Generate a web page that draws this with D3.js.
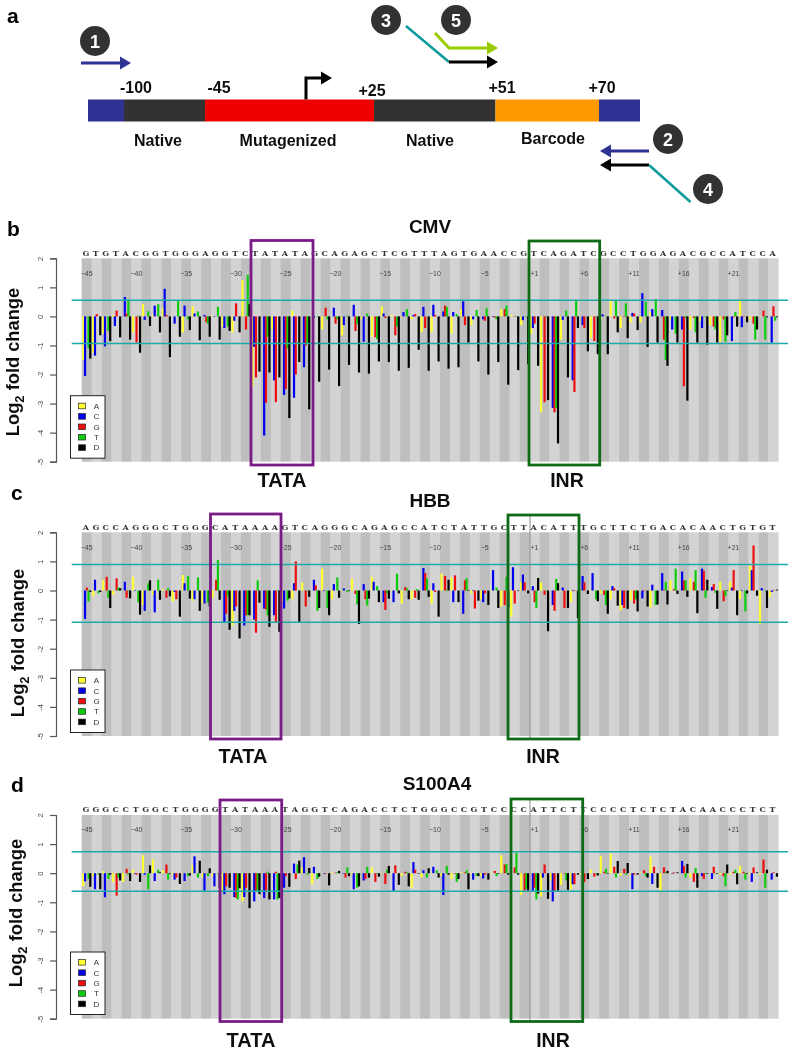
<!DOCTYPE html>
<html><head><meta charset="utf-8">
<script src="https://cdn.jsdelivr.net/npm/d3@7/dist/d3.min.js"></script>
<style>html,body{margin:0;background:#fff}svg{display:block}text{font-family:"Liberation Sans",Arial,sans-serif}</style>
</head><body><svg id="c" width="795" height="1050"><defs><filter id="soft" x="0" y="0" width="100%" height="100%"><feGaussianBlur stdDeviation="0.4"/></filter></defs></svg>
<script>
const bases = ["A","C","G","T","D"];
const baseColors = ["#ffff33","#0000ee","#ee1111","#11cc11","#000000"];
const posLabels = ["-45","-40","-35","-30","-25","-20","-15","-10","-5","+1","+6","+11","+16","+21"];
const yTicks = [2,1,0,-1,-2,-3,-4,-5];
const n = null;

const cmvSeq = "GTGTACGGTGGGAGGTCTATATAGCAGAGCTCGTTTAGTGAACCGTCAGATCGCCTGGAGACGCCATCCA";
const hbbSeq = "AGCCAGGGCTGGGCATAAAAGTCAGGGCAGAGCCATCTATTGCTTACATTTGCTTCTGACACAACTGTGT";
const s100Seq = "GGGCCTGGCTGGGGTATAAATAGGTCAGACCTCTGGGCCGTCCCCATTCTTCCCCTCTCTACAACCCTCT";

// each row: fold change for A, C, G, T, D at one position (null = native base)
const cmvRows = [
[-1.5,-2.05,n,-1.1,-1.45],[-1.25,-1.35,.08,n,-.65],[-.6,-1.03,n,-.5,-.85],[.05,-.33,.2,n,-.72],[n,.67,.1,.58,-.8],
[-.55,n,-.9,.03,-1.25],[.42,-.12,n,.18,-.33],[.05,.37,n,.42,-.55],[.3,.95,.05,n,-1.4],[-.02,-.25,n,.55,-.7],
[-.55,.37,n,-.1,-.47],[.35,.1,n,.17,-.82],[n,.05,-.2,-.25,-.7],[-.02,-.02,n,.33,-.8],[-.35,-.4,n,-.35,-.5],
[-.55,-.15,.45,n,-.55],[1.25,n,-.45,1.43,.42],[-2.4,-1.05,-2.1,n,-1.9],[n,-4.1,-2.97,-.7,-1.93],[-.45,-2.2,-2.95,n,-2.1],
[n,-2.7,-2.5,-1.1,-3.5],[.2,-2.8,-2,n,-1.57],[n,-1.75,-1,-.95,-3.2],[-.02,-.05,n,-.02,-2.25],[-.45,n,.3,-.1,-1.83],
[n,.3,-.25,-.1,-2.4],[-.65,-.3,n,.03,-1.67],[n,.4,-.5,-.27,-1.93],[-.1,-.87,n,.1,-1.97],[-.7,n,-.72,-.78,-1.55],
[.35,.1,-.05,n,-1.57],[.05,n,-.65,-.35,-1.87],[-.02,.15,n,.25,-1.77],[-.1,.05,.08,n,-1.15],[-.55,.33,-.4,n,-1.87],
[-.55,.4,.05,n,-1.55],[n,.17,.37,.33,-1.8],[-.6,.15,n,.08,-1.75],[.25,.52,-.3,n,-.9],[-.3,-.1,n,.22,-1.55],
[n,-.1,-.15,.28,-2],[n,-.02,-.05,-.1,-1.57],[.25,n,.25,.37,-2.35],[.05,n,.02,-.02,-1.85],[-.3,-.13,n,-.02,-1.65],
[-.6,-.4,-.25,n,-1.7],[-3.3,n,-2.95,-.02,-2.88],[n,-3.15,-3.3,-3.15,-4.37],[-.8,-.12,n,.2,-2.1],[n,-2.2,-2.6,.55,-.4],
[-.02,-.3,-.4,n,-1.2],[-.75,n,-.85,-.02,-1.3],[-.1,.07,n,.02,-1.3],[.55,n,-.07,.55,-.55],[-.4,n,-.02,.45,-.75],
[-.2,.12,.1,n,-.47],[-.2,.8,n,.5,-1.05],[.15,.25,n,.6,-.9],[n,.22,-.8,-1.5,-1.7],[-.1,-.45,n,-.6,-.9],
[n,-.45,-2.4,-.05,-2.9],[-.45,n,-.05,-.55,-.9],[-.15,-.4,n,-.02,-.97],[-.3,n,-.35,-.45,-.9],[-.87,n,-.1,-.87,-.65],
[n,-.85,-.03,.15,-.35],[.55,-.37,-.02,n,-.2],[-.1,n,-.25,-.8,-.45],[-.02,n,.2,-.8,-.03],[n,-.9,.35,-.15,-.03]];

const hbbRows = [
[n,-.98,.1,-.38,-.05],[-.2,.37,n,-.1,-.05],[.35,n,.47,-.25,-.6],[-.15,n,.42,.1,.08],[n,.3,-.25,-.02,-.27],
[.47,-.02,n,-.4,-.83],[-.5,-.7,n,.25,.35],[-.15,-.75,n,.37,-.32],[.05,n,-.25,.08,-.2],[-.37,-.05,-.3,n,-.9],
[.53,.25,n,.5,-.28],[-.35,-.3,n,.45,-.7],[-.45,-.45,n,-.42,-.55],[-.25,n,.37,1.05,-.32],[n,-1.1,-.8,-.2,-1.35],
[-1.2,-.7,-.55,n,-1.65],[n,-1.2,-.85,-.85,-.85],[n,-1,-1.45,.35,-.42],[n,-.62,-.65,-.85,-1.25],[n,-.85,-1.1,-.02,-1.42],
[-.4,-.62,n,-.35,-.27],[-.3,.25,1,n,-1.08],[.28,n,-.55,-.02,-.22],[n,.37,.18,-.7,-.6],[.75,-.02,n,-.6,-.85],
[-.3,.22,n,.45,-.25],[-.02,.07,n,-.05,-.02],[.4,n,-.12,-.48,-1.15],[n,.22,-.3,-.52,-.28],[.47,.3,n,.15,-.4],
[n,-.4,-.67,-.1,-.28],[-.02,-.4,n,.58,-.1],[-.45,n,.12,.07,-.3],[-.3,n,-.25,.05,-.32],[n,.77,.6,.42,-.22],
[-.45,.25,-.05,n,-.9],[.58,n,.5,-.02,.37],[.45,-.4,.52,n,-.4],[n,-.8,.35,.42,-.02],[-.1,-.02,-.62,n,-.35],
[-.3,-.4,-.1,n,-.5],[-.02,.7,n,.1,-.6],[-.55,n,-.5,.47,-.58],[-.9,.8,-.45,n,-.02],[.3,.55,.28,n,-.1],
[n,.15,-.4,-.6,.43],[.28,n,-.15,-.02,-1.4],[n,-.5,-.7,.4,.25],[-.02,.1,-.6,n,-.6],[-.4,-.02,-.02,n,-.95],
[-.02,.5,.28,n,-.12],[-.02,.6,n,-.3,-.37],[-.1,n,-.15,-.5,-.8],[-.3,.15,.08,n,-.52],[-.68,-.5,-.6,n,-.63],
[-.35,n,-.45,-.3,-.72],[-.02,-.27,-.02,n,-.55],[-.58,.2,n,-.5,-.48],[n,.6,.02,.3,-.48],[.35,n,.05,.75,-.12],
[n,.65,.35,.35,-.22],[.42,n,.3,.7,-.78],[n,.75,.68,-.25,.37],[n,.12,.22,-.08,-.63],[.3,n,-.37,-.2,-.02],
[.3,.1,.7,n,-.85],[-.3,-.02,n,-.72,-.1],[.85,.7,1.55,n,-.18],[-1.15,.08,n,-.02,-.6],[-.22,-.05,.02,n,.03]];

const s100Rows = [
[-.45,-.28,n,-.2,-.47],[-.1,-.55,n,-.05,-.55],[.07,-.83,n,-.2,-.05],[-.3,n,-.77,-.15,-.25],[-.3,n,.15,-.05,-.27],
[.12,-.02,-.05,n,-.3],[.62,-.05,n,-.55,.27],[.47,-.27,n,.12,.03],[.1,n,.3,-.22,-.02],[-.05,-.22,-.15,n,-.37],
[-.02,-.27,n,-.1,-.08],[.27,.58,n,-.15,.43],[-.15,-.6,n,-.1,.17],[-.1,-.45,n,-.02,-.5],[-.6,-.72,-.45,n,-.5],
[n,-.82,-.85,-.9,-.52],[-.97,-.82,-.5,n,-1.2],[n,-.97,-.6,-.6,-.72],[n,-.85,-.6,.05,-.9],[n,-.9,.05,-.9,-.85],
[-.4,-.5,-.1,n,-.47],[n,.33,-.2,.3,.43],[.2,.55,n,-.05,.18],[-.38,.22,n,-.2,-.12],[-.02,-.02,-.02,n,-.42],
[.03,n,.02,.03,.08],[n,-.02,-.15,.2,-.1],[-.05,-.55,n,-.5,-.45],[n,-.25,-.2,.22,-.15],[.2,n,-.3,-.02,-.12],
[-.02,n,-.37,.12,.25],[-.02,-.6,.27,n,-.4],[-.1,n,.05,.03,-.45],[-.5,.38,.12,n,-.02],[-.15,.1,n,-.15,.17],
[-.02,.22,n,.1,-.15],[-.1,-.75,n,.25,-.05],[-.2,n,-.02,-.3,-.2],[.03,n,.03,.1,-.55],[-.02,-.22,n,-.1,-.1],
[-.1,-.18,-.05,n,-.22],[-.02,n,.08,-.1,-.02],[.62,n,.3,.32,-.05],[-.05,n,.2,.7,-.05],[-.75,n,-.6,-.55,-.6],
[n,-.6,-.5,-.9,-.7],[-.8,-.15,.3,n,-.88],[-.25,-.97,-.6,n,-.6],[-.4,n,-.02,-.25,-.57],[-.55,-.38,-.38,n,-.05],
[-.05,-.02,-.3,n,-.2],[.12,n,-.12,-.02,-.08],[.6,n,.05,.15,-.02],[.67,n,.22,-.15,.42],[-.08,n,.15,-.05,.35],
[-.05,-.55,-.05,n,-.05],[.02,n,.1,-.1,-.15],[.57,-.37,.22,n,-.5],[-.6,n,.2,.03,.08],[-.02,-.02,.03,n,.03],
[n,.42,.25,-.15,.32],[-.15,n,-.3,.18,-.5],[n,-.1,-.2,-.02,-.02],[n,-.2,.22,-.02,-.02],[-.05,n,-.1,-.45,.3],
[-.05,n,.05,.12,-.38],[.25,n,.05,-.22,-.02],[-.05,-.3,.2,n,.03],[-.05,n,.47,-.5,.12],[-.02,-.22,.03,n,-.12]];

const panels = [
 {letter:"b",letterX:7,letterY:236,title:"CMV",titleX:430,titleY:233,seq:cmvSeq,rows:cmvRows,hi:.56,lo:-.93,top:258.3,bot:461.7,seqY:256,numY:275.5,
  labelX:19,labelY:362,box1:[251,240.5,313,465],box2:[529,241,599.7,465],tataX:282,inrX:567,markY:487,legTop:395.7,midLine:false},
 {letter:"c",letterX:11,letterY:500,title:"HBB",titleX:430,titleY:507.3,seq:hbbSeq,rows:hbbRows,hi:.89,lo:-1.09,top:532.3,bot:736,seqY:530,numY:549.5,
  labelX:24,labelY:643,box1:[210.5,514,281,739],box2:[508,515,579,739],tataX:243,inrX:543,markY:763,legTop:670,midLine:true},
 {letter:"d",letterX:11,letterY:792,title:"S100A4",titleX:437,titleY:790,seq:s100Seq,rows:s100Rows,hi:.74,lo:-.62,top:815,bot:1018.7,seqY:812,numY:832,
  labelX:22,labelY:913,box1:[220,800,281.7,1021.5],box2:[511,799,582.7,1021.5],tataX:251,inrX:553,markY:1047,legTop:952,midLine:true}
];

const svg = d3.select("#c");
const root = svg.append("g").attr("filter","url(#soft)");
root.append("rect").attr("width",795).attr("height",1050).attr("fill","#fff");
const positions = d3.range(70);
const x = d3.scaleBand().domain(positions).range([81.7,778.3]);
const inner = d3.scalePoint().domain(bases).range([1.6,8.6]);
const posIndex = s => { const v=+s; return v<0 ? v+45 : v+44; };

/* ---------- panel a schematic ---------- */
const blue="#2e3192", dark="#333333", teal="#0a9a9a", lime="#99cc00";
const segments=[[88,124,blue],[124,205,dark],[205,374,"#ee0000"],[374,495.5,dark],[495.5,599,"#ff9900"],[599,640,blue]];
const g0=root.append("g");
g0.selectAll("rect").data(segments).join("rect").attr("x",d=>d[0]).attr("width",d=>d[1]-d[0]).attr("y",99.5).attr("height",22).attr("fill",d=>d[2]);
const arrow=(pts,col,w=3)=>{
  g0.append("path").attr("d",d3.line()(pts)).attr("fill","none").attr("stroke",col).attr("stroke-width",w);
};
const head=(x0,y0,dir,col)=>{
  g0.append("path").attr("d",`M${x0},${y0-6.5}L${x0+dir*11},${y0}L${x0},${y0+6.5}Z`).attr("fill",col);
};
arrow([[306,99.5],[306,78],[322,78]],"#000",3); head(321,78,1,"#000");
arrow([[81,63],[121,63]],blue,3); head(120,63,1,blue);
arrow([[406,26],[449,62]],teal,2.5); arrow([[449,62],[488,62]],"#000",3); head(487,62,1,"#000");
arrow([[435,33],[449,48],[488,48]],lime,3); head(487,48,1,lime);
arrow([[649,151],[610,151]],blue,3); head(611,151,-1,blue);
arrow([[649,165],[610,165]],"#000",3); head(611,165,-1,"#000");
arrow([[649,165],[690.5,202]],teal,2.5);
[[95,41,"1"],[386,20,"3"],[456,20,"5"],[668,139,"2"],[708,189,"4"]].forEach(c=>{
  g0.append("circle").attr("cx",c[0]).attr("cy",c[1]).attr("r",15).attr("fill",dark);
  g0.append("text").attr("x",c[0]).attr("y",c[1]+6.5).attr("text-anchor","middle").attr("font-size",18).attr("font-weight","bold").attr("fill","#fff").text(c[2]);
});
[[136,93,"-100"],[219,93,"-45"],[372,96,"+25"],[502,93,"+51"],[602,93,"+70"],
 [158,146,"Native"],[288,146,"Mutagenized"],[430,146,"Native"],[553,144,"Barcode"]].forEach(t=>{
  g0.append("text").attr("x",t[0]).attr("y",t[1]).attr("text-anchor","middle").attr("font-size",16).attr("font-weight","bold").attr("fill","#111").text(t[2]);
});
root.append("text").attr("x",7).attr("y",23).attr("font-size",21).attr("font-weight","bold").text("a");

/* ---------- bar panels ---------- */
panels.forEach(p=>{
  const y=d3.scaleLinear().domain([2,-5]).range([p.top,p.bot]);
  const g=root.append("g");
  g.selectAll("rect.band").data(positions).join("rect").attr("class","band")
    .attr("x",d=>x(d)).attr("width",x.bandwidth()+.3).attr("y",p.top).attr("height",p.bot-p.top)
    .attr("fill",d=>d%2===0?"#bebebe":"#d3d3d3");
  g.selectAll("text.seq").data(p.seq.split("")).join("text").attr("class","seq")
    .attr("x",(d,i)=>x(i)+x.bandwidth()/2-.8).attr("y",p.seqY).attr("text-anchor","middle")
    .attr("style","font-family:'DejaVu Serif',serif").attr("font-size",8).attr("font-weight","bold").attr("fill","#333").text(d=>d);
  g.selectAll("text.num").data(posLabels).join("text").attr("class","num")
    .attr("x",d=>x(posIndex(d))+x.bandwidth()/2).attr("y",p.numY).attr("text-anchor","middle")
    .attr("font-size",7).attr("fill","#444").text(d=>d.replace("-","\u2212"));
  const flat=[];
  p.rows.forEach((r,i)=>r.forEach((v,k)=>{ if(v!==null) flat.push({i,k,v}); }));
  g.selectAll("rect.bar").data(flat).join("rect").attr("class","bar")
    .attr("x",d=>x(d.i)+inner(bases[d.k])-1.1).attr("width",2.2)
    .attr("y",d=>Math.min(y(0),y(d.v))).attr("height",d=>Math.abs(y(d.v)-y(0)))
    .attr("fill",d=>baseColors[d.k]);
  g.selectAll("line.thr").data([p.hi,p.lo]).join("line").attr("class","thr")
    .attr("x1",71.7).attr("x2",788).attr("y1",d=>y(d)).attr("y2",d=>y(d)).attr("stroke","#1fa9a9").attr("stroke-width",1.5);

  const ax=g.append("g").attr("transform","translate(56,0)").call(d3.axisLeft(y).tickValues(yTicks).tickSize(6).tickFormat(d3.format("d")));
  ax.selectAll("path,line").attr("stroke","#555").attr("stroke-width",1.2);
  ax.selectAll("text").attr("font-size",7.5).attr("fill","#444")
    .attr("x",0).attr("y",0).attr("dy","0").attr("text-anchor","middle")
    .attr("transform","translate(-13,0) rotate(-90)").text(d=>String(d));

  const lab=g.append("text").attr("transform",`translate(${p.labelX},${p.labelY}) rotate(-90)`).attr("text-anchor","middle").attr("font-size",18.3).attr("font-weight","bold").attr("fill","#111");
  lab.append("tspan").text("Log");
  lab.append("tspan").attr("dy",5).attr("font-size",13).text("2");
  lab.append("tspan").attr("dy",-5).text(" fold change");

  const lg=g.append("g").attr("transform",`translate(70.5,${p.legTop})`);
  lg.append("rect").attr("width",34.5).attr("height",62.5).attr("fill","#fff").attr("stroke","#222").attr("stroke-width",1);
  bases.forEach((b,k)=>{
    const ry=10.3+k*10.4;
    lg.append("rect").attr("x",8).attr("y",ry-2.8).attr("width",7).attr("height",5.6).attr("fill",baseColors[k]).attr("stroke","#222").attr("stroke-width",.7);
    lg.append("text").attr("x",26).attr("y",ry+2.9).attr("text-anchor","middle").attr("font-size",8).attr("fill","#333").text(b);
  });

  if(p.midLine) g.append("line").attr("x1",530).attr("x2",530).attr("y1",p.box2[1]).attr("y2",p.box2[3]).attr("stroke","#888").attr("stroke-width",1);
  const boxes=[[p.box1,"#7a1a86"],[p.box2,"#0f6b14"]];
  boxes.forEach(([b,c])=>g.append("rect").attr("x",b[0]).attr("y",b[1]).attr("width",b[2]-b[0]).attr("height",b[3]-b[1]).attr("fill","none").attr("stroke",c).attr("stroke-width",2.8));
  g.append("text").attr("x",p.tataX).attr("y",p.markY).attr("text-anchor","middle").attr("font-size",20).attr("font-weight","bold").attr("fill","#111").text("TATA");
  g.append("text").attr("x",p.inrX).attr("y",p.markY).attr("text-anchor","middle").attr("font-size",19.5).attr("font-weight","bold").attr("fill","#111").text("INR");
  g.append("text").attr("x",p.titleX).attr("y",p.titleY).attr("text-anchor","middle").attr("font-size",19).attr("font-weight","bold").attr("fill","#111").text(p.title);
  g.append("text").attr("x",p.letterX).attr("y",p.letterY).attr("font-size",21).attr("font-weight","bold").text(p.letter);
});
</script></body></html>
